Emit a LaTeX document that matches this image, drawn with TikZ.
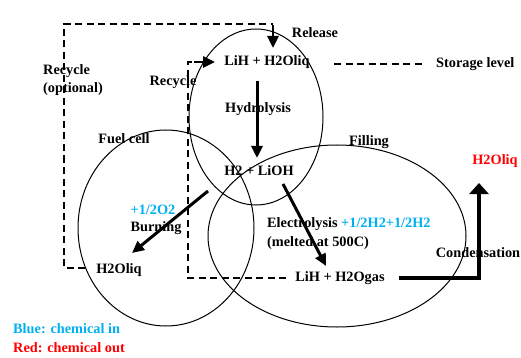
\documentclass[tikz,border=0pt]{standalone}
\usepackage{fontspec}
\setmainfont{Liberation Serif}
\usetikzlibrary{arrows.meta}
\definecolor{inblue}{RGB}{0,176,240}
\definecolor{outred}{RGB}{255,0,0}
\begin{document}
\begin{tikzpicture}[x=1pt,y=-1pt,
  lbl/.style={inner sep=0pt,font=\fontsize{14.3}{18}\selectfont\bfseries},
  ring/.style={draw,line width=1pt},
  dashline/.style={line width=2.8pt,dash pattern=on 7pt off 4.5pt},
  bigarrow/.style={line width=3pt,-{Triangle[length=12pt,width=11pt]}},
  condarrow/.style={line width=3.3pt,-{Triangle[length=11pt,width=19pt]}}]
\useasboundingbox (0,0) rectangle (521,358);
% ellipses
\draw[ring] (256,117) ellipse [x radius=67, y radius=88];
\draw[ring] (166,228) ellipse [x radius=88, y radius=98];
\draw[ring] (337,236) ellipse [x radius=129, y radius=91];
% labels
\node[lbl] (release) at (315,33) {Release};
\node[lbl] (lih) at (267,62) {LiH + H2Oliq};
\node[lbl] (hydro) at (258,109) {Hydrolysis};
\node[lbl] (h2) at (259,171) {H2 + LiOH};
\node[lbl] (fuel) at (124,139) {Fuel cell};
\node[lbl] (filling) at (369,142) {Filling};
\node[lbl,anchor=west,align=left] (recopt) at (43,80) {Recycle\\(optional)};
\node[lbl] (recycle) at (173,82) {Recycle};
\node[lbl,anchor=west] (storage) at (436,64) {Storage level};
\node[lbl,text=outred] (h2oout) at (495,161) {H2Oliq};
\node[lbl,text=inblue] (o2) at (153,210) {+1/2O2};
\node[lbl] (burn) at (156,228) {Burning};
\node[lbl] (h2oliq) at (119,270) {H2Oliq};
\node[lbl,anchor=west] (electro) at (267,224) {Electrolysis \textcolor{inblue}{+1/2H2+1/2H2}};
\node[lbl,anchor=west] (melted) at (267,243) {(melted at 500C)};
\node[lbl] (gas) at (340,278) {LiH + H2Ogas};
\node[lbl] (cond) at (478,253) {Condensation};
\node[lbl,anchor=west,text=inblue] (bluein) at (13,329) {Blue: chemical in};
\node[lbl,anchor=west,text=outred] (redout) at (13,348) {Red: chemical out};
% coordinates
\coordinate (hyA) at (257,81);
\coordinate (hyB) at (257,158);
\coordinate (elA) at (283,184);
\coordinate (elB) at (326,266);
\coordinate (buA) at (208,191);
\coordinate (buB) at (132,253);
\coordinate (fcL) at (85,268);
\coordinate (outerTL) at (64,24);
\coordinate (outerBL) at (64,268);
\coordinate (outerTR) at (273,24);
\coordinate (outerTip) at (273,48);
\coordinate (innerBR) at (286,278);
\coordinate (innerBL) at (188,278);
\coordinate (innerTL) at (188,62);
\coordinate (innerTip) at (215,62);
\coordinate (stA) at (334,64);
\coordinate (stB) at (426,64);
\coordinate (coA) at (399,278);
\coordinate (coC) at (479,278);
\coordinate (coTip) at (479,183);
% arrows
\draw[bigarrow] (hyA) -- (hyB);
\draw[bigarrow] (elA) -- (elB);
\draw[bigarrow] (buA) -- (buB);
\draw[condarrow] (coA) -- (coC) -- (coTip);
% dashed loops
\draw[dashline] (fcL) -- (outerBL) -- (outerTL) -- (outerTR);
\draw[line width=2.8pt,-{Triangle[length=12pt,width=11pt]}] ([yshift=-1.4pt]outerTR) -- (outerTip);
\draw[dashline] (innerBR) -- (innerBL) -- (innerTL) -- (194,62);
\draw[line width=2.8pt,-{Triangle[length=12pt,width=11pt]}] (194,62) -- (innerTip);
\draw[dashline] (stA) -- (stB);
\end{tikzpicture}
\end{document}
